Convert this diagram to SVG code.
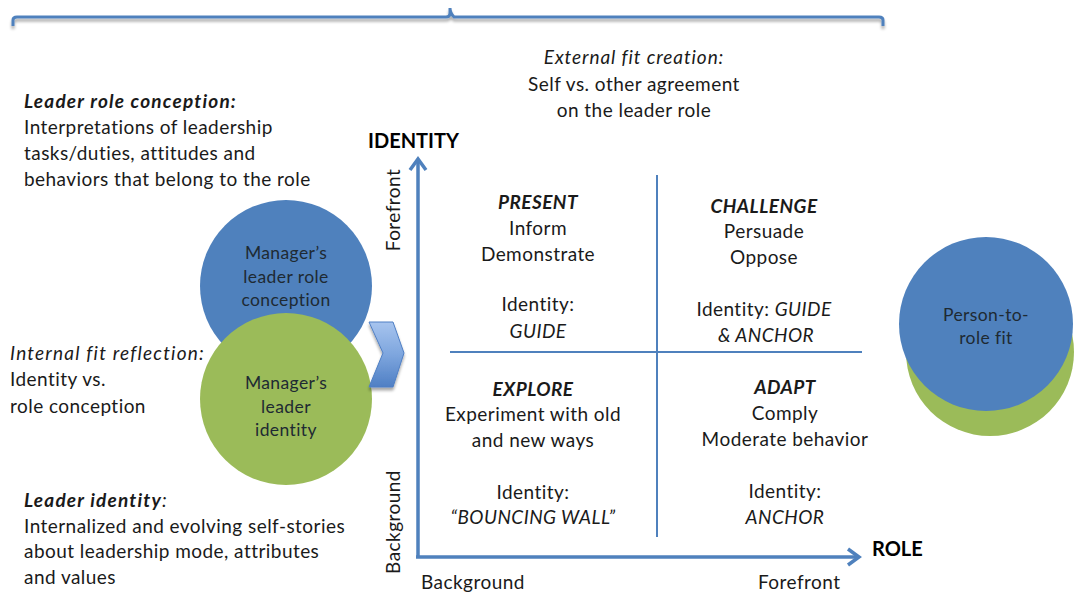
<svg xmlns="http://www.w3.org/2000/svg" width="1080" height="593" viewBox="0 0 1080 593">
  <style>
    text { font-family: Lato, "Liberation Sans", sans-serif; font-size: 19px; letter-spacing: 0.45px; fill: #1a1a1a; }
    .c { text-anchor: middle; }
    .b { font-weight: bold; }
    .i { font-style: italic; }
    .hd { letter-spacing: 1.2px; }
    .node { font-size: 17.5px; letter-spacing: 0.4px; fill: #1e2a33; text-anchor: middle; }
    .ax { font-weight: bold; font-size: 20px; letter-spacing: 0; fill: #000; }
    .axis { fill: none; stroke: #4f81bd; stroke-width: 3.5; }
    .div { fill: none; stroke: #4f81bd; stroke-width: 2; }
  </style>
  <defs>
    <filter id="shadow" x="-20%" y="-50%" width="140%" height="250%">
      <feGaussianBlur in="SourceAlpha" stdDeviation="1.5"/>
      <feOffset dx="0" dy="2.5" result="o"/>
      <feComponentTransfer><feFuncA type="linear" slope="0.35"/></feComponentTransfer>
      <feMerge><feMergeNode/><feMergeNode in="SourceGraphic"/></feMerge>
    </filter>
    <linearGradient id="chev" x1="0" y1="0" x2="0" y2="1">
      <stop offset="0" stop-color="#a7c4ee"/>
      <stop offset="0.5" stop-color="#7ea6de"/>
      <stop offset="1" stop-color="#4f7fc4"/>
    </linearGradient>
  </defs>

  <!-- top brace -->
  <g id="brace" filter="url(#shadow)">
    <path d="M13 26 V20 Q13 17 17 17 H446 Q450 17 450 13 V8 Q450 13 454 17 H879 Q883 17 883 20 V26" fill="none" stroke="#4f81bd" stroke-width="3"/>
  </g>

  <!-- annotation texts -->
  <g id="external-fit">
    <text class="c i hd" x="634" y="64" style="letter-spacing:0.9px">External fit creation:</text>
    <text class="c" x="634" y="91">Self vs. other agreement</text>
    <text class="c" x="634" y="117">on the leader role</text>
  </g>
  <g id="leader-role-conception">
    <text class="b i hd" x="24" y="108">Leader role conception:</text>
    <text x="24" y="134">Interpretations of leadership</text>
    <text x="24" y="160">tasks/duties, attitudes and</text>
    <text x="24" y="186">behaviors that belong to the role</text>
  </g>
  <g id="internal-fit">
    <text class="i" x="10" y="360" style="letter-spacing:1.2px">Internal fit reflection:</text>
    <text x="10" y="386">Identity vs.</text>
    <text x="10" y="413">role conception</text>
  </g>
  <g id="leader-identity">
    <text x="24" y="507" class="hd"><tspan class="b i">Leader identity</tspan><tspan class="i">:</tspan></text>
    <text x="24" y="533">Internalized and evolving self-stories</text>
    <text x="24" y="558">about leadership mode, attributes</text>
    <text x="24" y="584">and values</text>
  </g>

  <!-- left circles -->
  <g id="role-conception-node">
    <circle cx="286" cy="286" r="86" fill="#4f81bd"/>
    <text class="node" x="286" y="259">Manager’s</text>
    <text class="node" x="286" y="283">leader role</text>
    <text class="node" x="286" y="306">conception</text>
  </g>
  <g id="leader-identity-node">
    <circle cx="286" cy="399" r="86" fill="#9bbb59"/>
    <text class="node" x="286" y="389">Manager’s</text>
    <text class="node" x="286" y="413">leader</text>
    <text class="node" x="286" y="436">identity</text>
  </g>

  <!-- chevron -->
  <g id="chevron" filter="url(#shadow)">
    <polygon points="369,322 393,322 404,353 393,387 369,387 383,353" fill="url(#chev)" stroke="#4f7fc4" stroke-width="1"/>
  </g>

  <!-- right circles -->
  <g id="person-role-fit">
    <circle cx="990" cy="352" r="84" fill="#9bbb59"/>
    <circle cx="986" cy="324" r="87" fill="#4f81bd"/>
    <text class="node" x="986" y="321">Person-to-</text>
    <text class="node" x="986" y="344">role fit</text>
  </g>

  <!-- axes and quadrant dividers -->
  <g id="connectors">
    <path class="axis" d="M418 558 V160"/>
    <path class="axis" d="M410 170 L418 159 L426 170"/>
    <path class="axis" d="M416 557 H858"/>
    <path class="axis" d="M848 549 L859 557 L848 565"/>
    <path class="div" d="M657 175 V537"/>
    <path class="div" d="M450 352 H862"/>
  </g>

  <!-- axis labels -->
  <g id="axis-labels">
    <text class="ax" x="368" y="148">IDENTITY</text>
    <text class="ax" x="872" y="556">ROLE</text>
    <text class="c" transform="translate(400,210) rotate(-90)">Forefront</text>
    <text class="c" transform="translate(400,522) rotate(-90)">Background</text>
    <text x="421" y="589">Background</text>
    <text x="758" y="589">Forefront</text>
  </g>

  <!-- quadrants -->
  <g id="q-present">
    <text class="c b i" x="538" y="209">PRESENT</text>
    <text class="c" x="538" y="235">Inform</text>
    <text class="c" x="538" y="261">Demonstrate</text>
    <text class="c" x="538" y="311">Identity:</text>
    <text class="c i" x="538" y="338">GUIDE</text>
  </g>
  <g id="q-challenge">
    <text class="c b i" x="764" y="213">CHALLENGE</text>
    <text class="c" x="764" y="238">Persuade</text>
    <text class="c" x="764" y="264">Oppose</text>
    <text class="c" x="764" y="316">Identity: <tspan class="i">GUIDE</tspan></text>
    <text class="c i" x="766" y="342">&amp; ANCHOR</text>
  </g>
  <g id="q-explore">
    <text class="c b i" x="533" y="396">EXPLORE</text>
    <text class="c" x="533" y="421">Experiment with old</text>
    <text class="c" x="533" y="447">and new ways</text>
    <text class="c" x="533" y="499">Identity:</text>
    <text class="c i" x="533" y="524">“BOUNCING WALL”</text>
  </g>
  <g id="q-adapt">
    <text class="c b i" x="785" y="394">ADAPT</text>
    <text class="c" x="785" y="420">Comply</text>
    <text class="c" x="785" y="446">Moderate behavior</text>
    <text class="c" x="785" y="498">Identity:</text>
    <text class="c i" x="785" y="524">ANCHOR</text>
  </g>
</svg>
